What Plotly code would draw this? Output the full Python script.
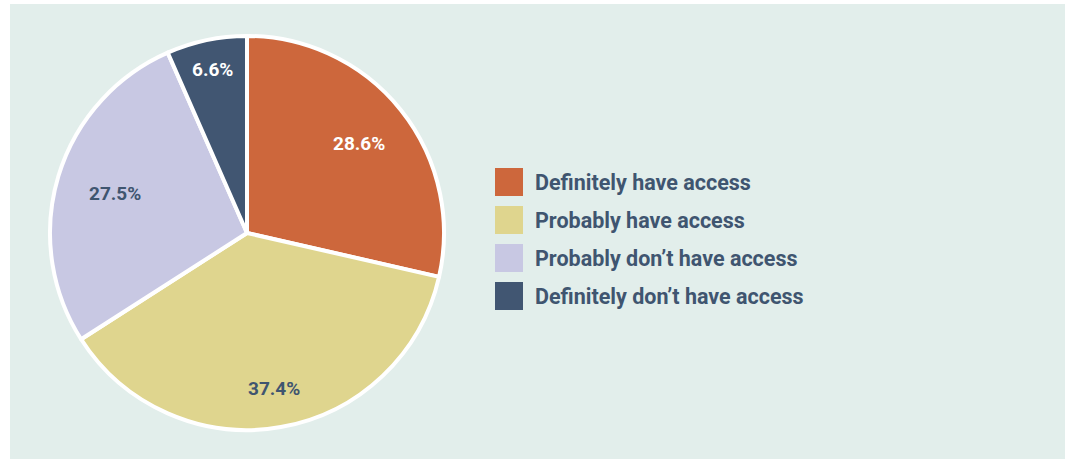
import math
import plotly.graph_objects as go

labels = ["Definitely have access", "Probably have access",
          "Probably don’t have access", "Definitely don’t have access"]
values = [28.6, 37.4, 27.5, 6.6]
colors = ["#CD673C", "#DFD58E", "#C8C8E3", "#415672"]
text_colors = ["#FFFFFF", "#3F5570", "#3F5570", "#FFFFFF"]
label_radius = [0.726, 0.80, 0.70, 0.85]  # fraction of pie radius for value labels

W, H = 1071, 459
BG = "#E2EEEB"
TXT = "#3F5570"

# pie domain in pixels
px0, px1, py0, py1 = 50, 444, 34, 432
cx, cy = (px0 + px1) / 2, (py0 + py1) / 2
R = min(px1 - px0, py1 - py0) / 2

fig = go.Figure()
fig.add_trace(go.Pie(
    labels=labels,
    values=values,
    sort=False,
    direction="clockwise",
    rotation=0,
    marker=dict(colors=colors, line=dict(color="white", width=4)),
    textinfo="none",
    hoverinfo="label+value",
    showlegend=False,
    domain=dict(x=[px0 / W, px1 / W], y=[1 - py1 / H, 1 - py0 / H]),
))

shapes = [dict(type="rect", xref="paper", yref="paper",
               x0=10 / W, x1=1065 / W, y0=0, y1=1 - 4 / H,
               fillcolor=BG, line=dict(width=0), layer="below")]
annotations = []

# value labels placed at slice mid-angles
total = sum(values)
cum = 0.0
for v, tc, rf in zip(values, text_colors, label_radius):
    mid = (cum + v / 2) / total * 2 * math.pi
    cum += v
    x = cx + rf * R * math.sin(mid)
    y = cy - rf * R * math.cos(mid)
    annotations.append(dict(xref="paper", yref="paper", x=x / W, y=1 - y / H,
                            xanchor="center", yanchor="middle", showarrow=False,
                            text=f"{v:.1f}%",
                            font=dict(family="Roboto", size=19, color=tc,
                                      weight="bold")))

# custom legend
row0, step = 182, 38
for i, (lab, col) in enumerate(zip(labels, colors)):
    yc = row0 + i * step
    shapes.append(dict(type="rect", xref="paper", yref="paper",
                       x0=495 / W, x1=523 / W,
                       y0=1 - (yc + 14) / H, y1=1 - (yc - 14) / H,
                       fillcolor=col, line=dict(width=0)))
    annotations.append(dict(xref="paper", yref="paper", x=533 / W, y=1 - yc / H,
                            xanchor="left", yanchor="middle", showarrow=False,
                            text=lab, font=dict(family="Roboto", size=21.5,
                                                color=TXT, weight="bold")))

fig.update_layout(
    width=W, height=H,
    margin=dict(l=0, r=0, t=0, b=0),
    paper_bgcolor="white",
    plot_bgcolor="white",
    shapes=shapes,
    annotations=annotations,
)

fig.write_html("out.html")
